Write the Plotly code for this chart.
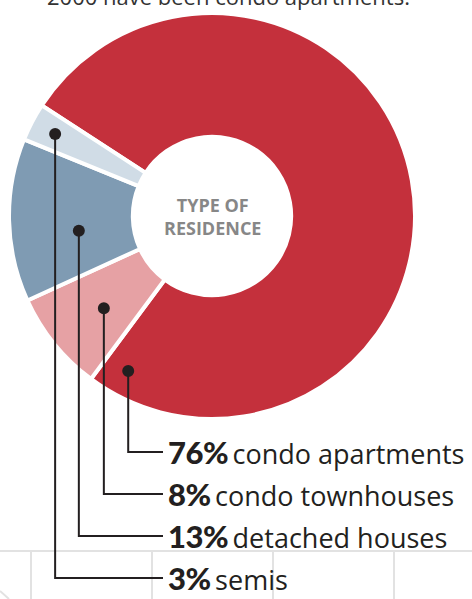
import math
import plotly.graph_objects as go

# ---- data ----
categories = ["condo apartments", "condo townhouses", "detached houses", "semis"]
values = [76, 8, 13, 3]
pct_labels = ["76%", "8%", "13%", "3%"]
colors = ["#C4303C", "#E6A1A4", "#7F9BB3", "#D0DCE6"]
center_title = "TYPE OF<br>RESIDENCE"
top_text = "2000 have been condo apartments."

# ---- layout constants (pixels) ----
W, H = 472, 599
CX, CY, R = 212, 216, 203
HOLE = 0.39
START = 147  # math angle (deg) where first slice begins, sweeping clockwise
dot_frac = [0.97, 0.45, 0.39, 0.5]   # position along each slice's sweep
dot_rad = [0.868, 0.70, 0.66, 0.872]  # fraction of outer radius
label_y = [452, 494, 536, 578]
label_x = 166
INK = "#231F20"

total = sum(values)
fig = go.Figure()

# background grid fragment (table below)
grid_x = [31, 152, 273, 394]
gx, gy = [0, W, None], [551, 551, None]
for x in grid_x:
    gx += [x, x, None]
    gy += [551, H, None]
gx += [0, 9]
gy += [591, H]
fig.add_trace(go.Scatter(x=gx, y=gy, mode="lines",
                         line=dict(color="#E2E2E2", width=2),
                         hoverinfo="skip", showlegend=False))

fig.add_trace(go.Pie(
    labels=categories, values=values, sort=False, direction="clockwise",
    rotation=90 - START, hole=HOLE, textinfo="none", hoverinfo="label+percent",
    marker=dict(colors=colors, line=dict(color="white", width=4)),
    domain=dict(x=[(CX - R) / W, (CX + R) / W],
                y=[1 - (CY + R) / H, 1 - (CY - R) / H]),
    showlegend=False,
))

shapes = []
annotations = []
cum = 0
for i, v in enumerate(values):
    a0 = START - 360 * cum / total
    sweep = 360 * v / total
    ang = math.radians(a0 - dot_frac[i] * sweep)
    r = dot_rad[i] * R
    dx = CX + r * math.cos(ang)
    dy = CY - r * math.sin(ang)
    cum += v
    shapes.append(dict(type="path", xref="x", yref="y", layer="above",
                       path=f"M{dx},{dy} L{dx},{label_y[i]} L{label_x - 3},{label_y[i]}",
                       line=dict(color=INK, width=2)))
    shapes.append(dict(type="circle", xref="x", yref="y", layer="above",
                       x0=dx - 6, x1=dx + 6, y0=dy - 6, y1=dy + 6,
                       fillcolor=INK, line=dict(color=INK, width=0)))
    annotations.append(dict(
        x=label_x, y=label_y[i], xref="x", yref="y", xanchor="left", yanchor="middle",
        showarrow=False,
        text=(f"<span style='font-family:Lato;font-weight:900;font-size:31px;letter-spacing:-0.5px'>{pct_labels[i]}</span>"
              f"\u2009{categories[i]}"),
        font=dict(family="Open Sans", size=27, color=INK),
    ))

annotations.append(dict(x=CX, y=CY, xref="x", yref="y", showarrow=False,
                        text=f"<b>{center_title}</b>",
                        font=dict(family="Open Sans", size=18, color="#878787")))
annotations.append(dict(x=228, y=13, xref="x", yref="y", yanchor="bottom", showarrow=False,
                        text=top_text, font=dict(family="Open Sans", size=22, color="#333333")))

fig.update_layout(
    width=W, height=H, margin=dict(l=0, r=0, t=0, b=0),
    paper_bgcolor="white", plot_bgcolor="white",
    xaxis=dict(range=[0, W], visible=False, fixedrange=True),
    yaxis=dict(range=[H, 0], visible=False, fixedrange=True),
    shapes=shapes, annotations=annotations,
)
fig.write_html("out.html", config={"displayModeBar": False},
               post_script="document.body.style.margin='0px';")
